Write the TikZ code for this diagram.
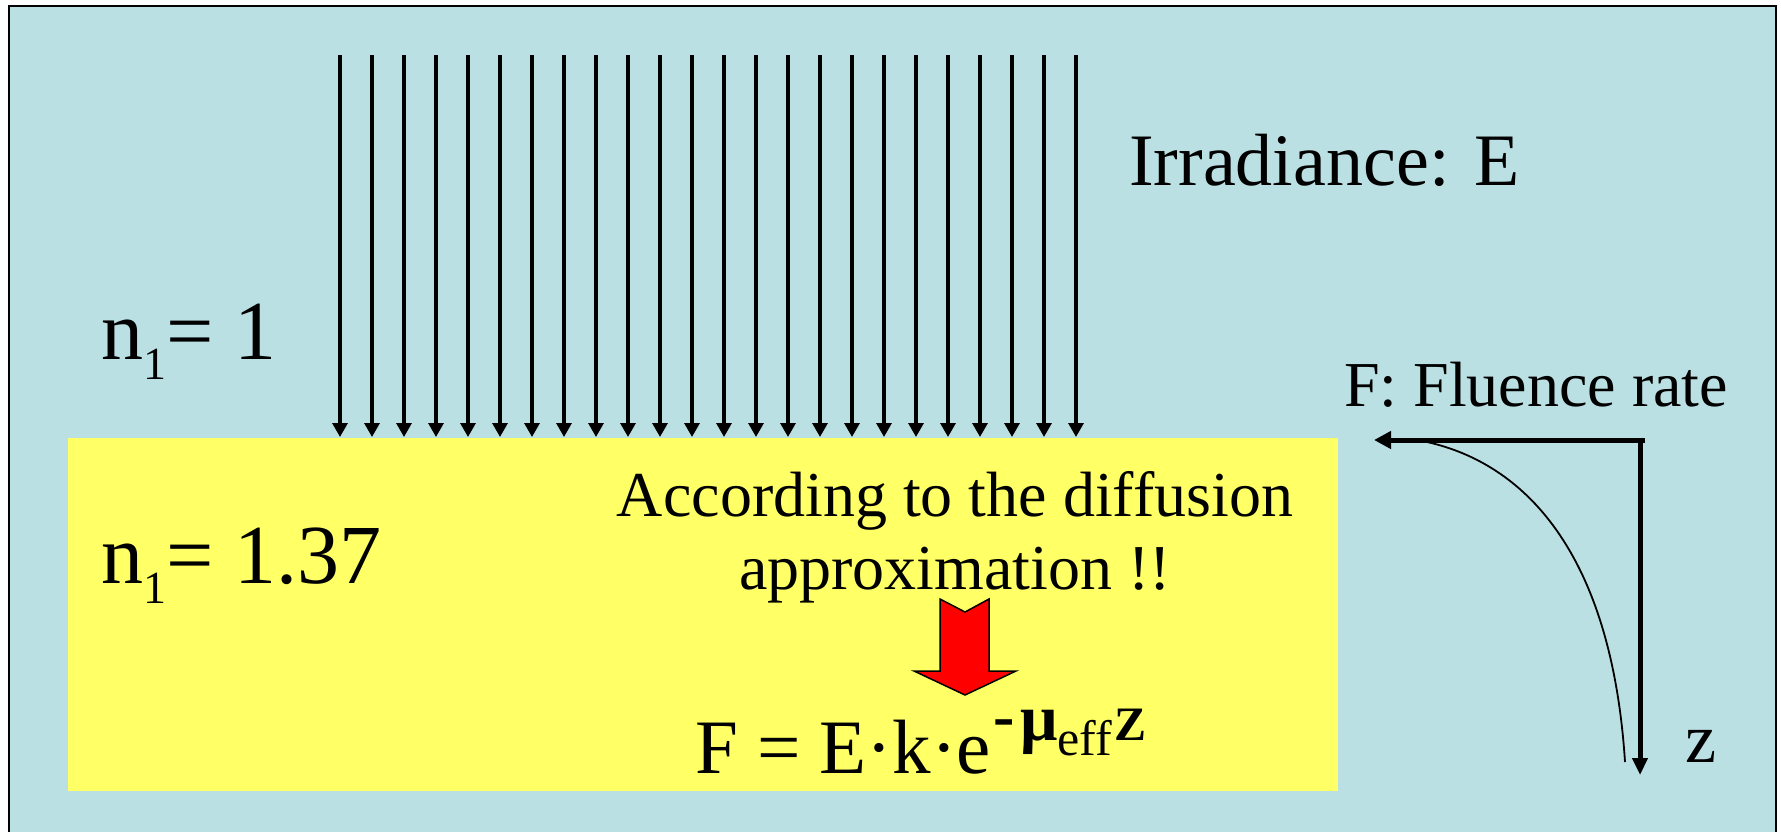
\documentclass[tikz,border=0pt]{standalone}
\usepackage{fontspec}
\setmainfont{Liberation Serif}
\usetikzlibrary{arrows.meta}
\definecolor{bgblue}{RGB}{187,224,227}
\definecolor{slideyellow}{RGB}{255,255,102}
\newcommand\setfsz[1]{\fontsize{#1}{#1}\selectfont}
\begin{document}
\begin{tikzpicture}[x=1pt,y=-1pt,
  ray/.style={line width=3.3pt,-{Triangle[width=15pt,length=14pt]}},
  axisline/.style={line width=5pt},
  lbl/.style={inner sep=0pt, anchor=base west},
  ctr/.style={inner sep=0pt, anchor=base},
  curveline/.style={line width=1.8pt},
  blockarrow/.style={line width=1.5pt, fill=red, line join=miter}
]
\useasboundingbox (0,0) rectangle (1781,831);
\fill[white] (0,0) rectangle (1781,831);
\begin{scope}
  \clip (0,0) rectangle (1781,831);
  \draw[line width=2pt, fill=bgblue] (9.2,5.8) rectangle (1776,845);
\end{scope}
\fill[slideyellow] (68,438) rectangle (1338,791);

% incident rays
\foreach \i in {0,...,23} {
  \coordinate (s\i) at ({340+32*\i},55);
  \coordinate (e\i) at ({340+32*\i},437);
  \draw[ray] (s\i) -- (e\i);
}

% texts
\node[lbl] (irr) at (1129,185) {\setfsz{74}Irradiance: E};
\node[lbl] (nair) at (101,359) {\setfsz{84}n\raisebox{-20pt}{\setfsz{46}1}= 1};
\node[lbl] (ntis) at (101,583) {\setfsz{84}n\raisebox{-20pt}{\setfsz{46}1}= 1.37};
\node[lbl] (flu) at (1344,406) {\setfsz{64}F: Fluence rate};
\node[ctr] (acc1) at (955,516) {\setfsz{64}According to the diffusion};
\node[ctr] (acc2) at (955,589) {\setfsz{64}approximation !!};
\node[lbl] (zlab) at (1685,762) {\setfsz{70}z};
\node[lbl] (formula) at (695,773) {\setfsz{77}F = E·k·e\kern3pt\raisebox{36pt}{\bfseries\setfsz{64}-}\kern5pt\raisebox{33pt}{\bfseries\setfsz{66}μ}\raisebox{18pt}{\setfsz{50}eff}\kern2pt\raisebox{33pt}{\bfseries\setfsz{48}Z}};

% block arrow
\coordinate (ba1) at (940,599);
\coordinate (ba2) at (965,612);
\coordinate (ba3) at (989,599);
\coordinate (ba4) at (989,671);
\coordinate (ba5) at (1016,671);
\coordinate (ba6) at (965,695);
\coordinate (ba7) at (914,671);
\coordinate (ba8) at (940,671);
\draw[blockarrow] (ba1) -- (ba2) -- (ba3) -- (ba4) -- (ba5) -- (ba6) -- (ba7) -- (ba8) -- cycle;

% axes
\coordinate (hstart) at (1645,440);
\coordinate (hend) at (1374,440);
\coordinate (vstart) at (1640,437.5);
\coordinate (vend) at (1640,775);
\draw[axisline,-{Triangle[width=17pt,length=17pt]}] (hstart) -- (hend);
\draw[axisline,-{Triangle[width=15pt,length=17pt]}] (vstart) -- (vend);

% fluence curve
\coordinate (cstart) at (1427,442);
\coordinate (cend) at (1625,762);
\draw[curveline] (cstart) .. controls (1530,465) and (1612,560) .. (cend);
\end{tikzpicture}
\end{document}
